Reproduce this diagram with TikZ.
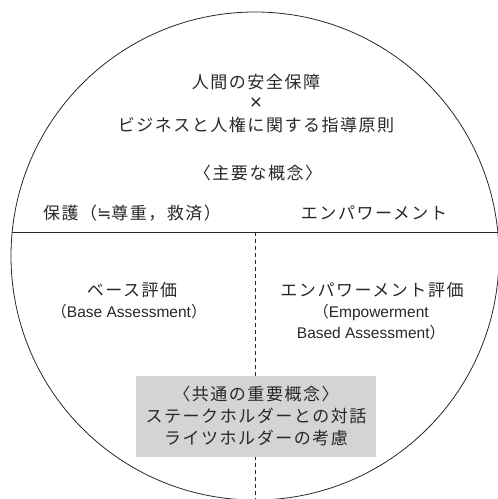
\documentclass[tikz,border=0pt]{standalone}
\usepackage{fontspec}
\setmainfont{Liberation Sans}
\newfontfamily\jp[LetterSpace=9]{Noto Sans CJK JP}
\newfontfamily\symfont{DejaVu Sans}
\definecolor{boxgray}{RGB}{212,212,213}
\definecolor{ink}{RGB}{40,40,40}
\tikzset{
  lbl/.style={font=\jp\fontsize{17}{21.5}\selectfont, text=ink, align=center, inner sep=0pt},
  enlbl/.style={font=\fontsize{15.5}{21}\selectfont, text=ink, align=center, inner sep=0pt},
  rule/.style={draw=ink, line width=0.8pt},
  dashrule/.style={draw=ink, line width=0.8pt, dash pattern=on 4pt off 3pt},
  graybox/.style={fill=boxgray, minimum width=240pt, minimum height=81pt, inner sep=0pt, align=center, font=\jp\fontsize{17}{22}\selectfont, text=ink}
}
\begin{document}
\begin{tikzpicture}[x=1pt,y=-1pt]
\useasboundingbox (0,0) rectangle (498,499);
\coordinate (c) at (255,256);
\coordinate (hl) at (12.2,232);
\coordinate (hr) at (497.8,232);
\coordinate (vt) at (255,232);
\coordinate (vb) at (255,499);
\draw[rule] (c) circle[radius=244pt];
\draw[rule] (hl) -- (hr);
\draw[dashrule] (vt) -- (vb);
\node[lbl] (title) at (256,103.5) {人間の安全保障\\{\rmfamily\fontsize{21}{21.5}\selectfont ×}\\ビジネスと人権に関する指導原則};
\node[lbl] (concept) at (258,173) {〈主要な概念〉};
\node[lbl] (protect) at (132,213) {保護（{\symfont\fontsize{17}{21}\selectfont ≒}尊重，救済）};
\node[lbl] (empower) at (374,213) {エンパワーメント};
\node[lbl] (base) at (132,290) {ベース評価};
\node[enlbl] (baseen) at (129,312) {{\jp （}Base Assessment{\jp ）}};
\node[lbl] (empeval) at (372,290) {エンパワーメント評価};
\node[enlbl] (empen) at (371,322.5) {{\jp （}Empowerment\\Based Assessment{\jp ）}};
\node[graybox] (common) at (256,416.5) {〈共通の重要概念〉\\ステークホルダーとの対話\\ライツホルダーの考慮};
\end{tikzpicture}
\end{document}
